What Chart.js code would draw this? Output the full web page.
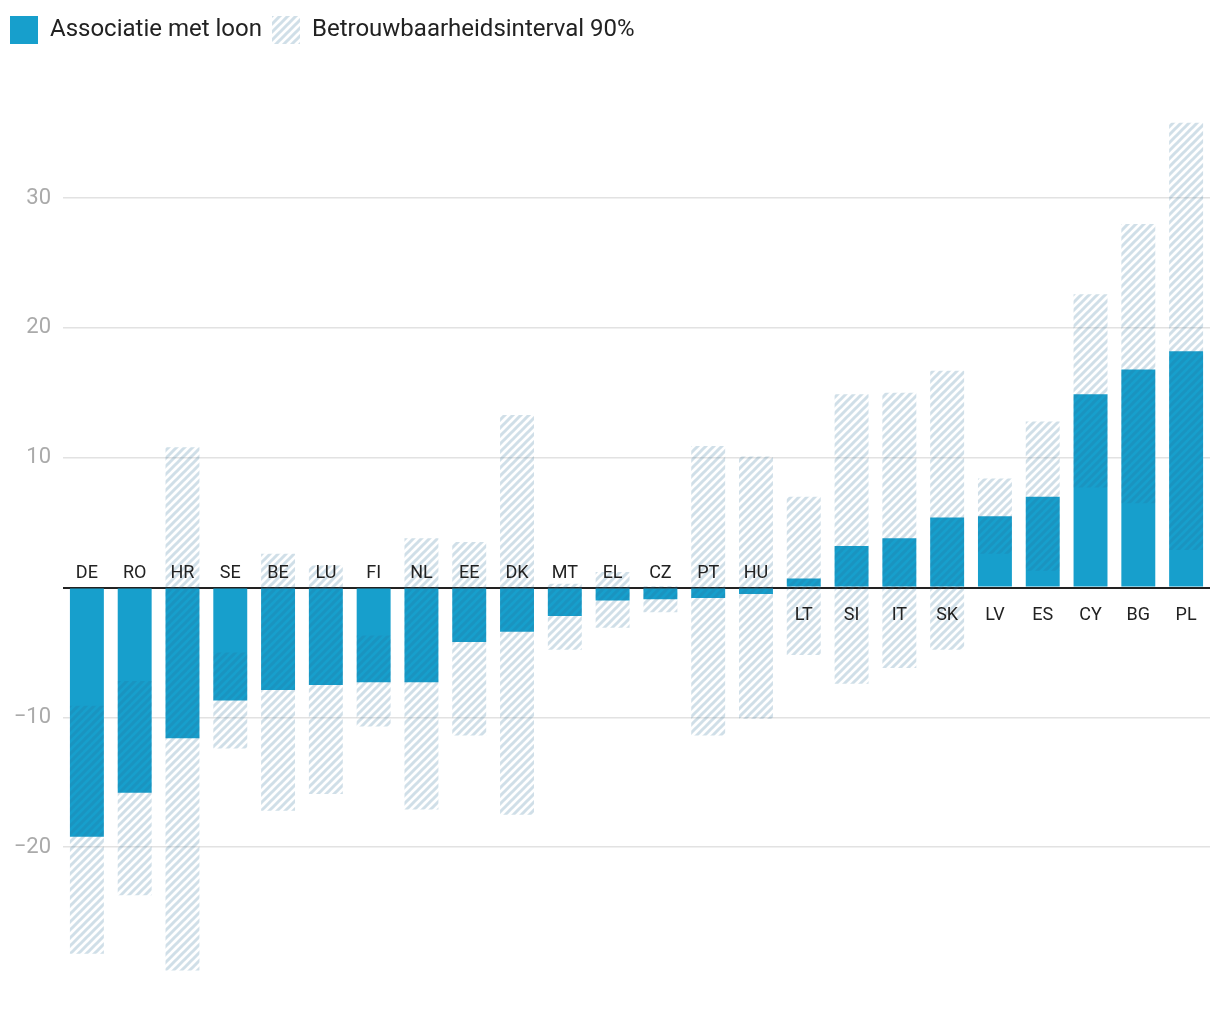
<!DOCTYPE html>
<html>
<head>
<meta charset="utf-8">
<script src="https://cdn.jsdelivr.net/npm/chart.js@4/dist/chart.umd.min.js"></script>
<style>
html,body{margin:0;padding:0;background:#fff}
#wrap{width:1220px;height:1020px}
</style>
</head>
<body>
<div id="wrap"><canvas id="chart" width="1220" height="1020"></canvas></div>
<script>
let countries=["DE","RO","HR","SE","BE","LU","FI","NL","EE","DK","MT","EL","CZ","PT","HU","LT","SI","IT","SK","LV","ES","CY","BG","PL"]
let assoc=[-19.2,-15.8,-11.6,-8.7,-7.9,-7.5,-7.3,-7.3,-4.2,-3.4,-2.2,-1.0,-0.9,-0.8,-0.5,0.7,3.2,3.8,5.4,5.5,7.0,14.9,16.8,18.2]
let ciLow=[-28.2,-23.7,-29.5,-12.4,-17.2,-15.9,-10.7,-17.1,-11.4,-17.5,-4.8,-3.1,-1.9,-11.4,-10.1,-5.2,-7.4,-6.2,-4.8,2.6,1.3,7.7,6.5,2.9]
let ciHigh=[-9.1,-7.2,10.8,-5.0,2.6,1.7,-3.7,3.8,3.5,13.3,0.3,1.2,0.1,10.9,10.1,7.0,14.9,15.0,16.7,8.4,12.8,22.6,28.0,35.8]
let yTicks=[-20,-10,0,10,20,30]

let blue="#179fcc"

function makeHatch(){
let c=document.createElement("canvas")
c.width=8
c.height=8
let g=c.getContext("2d")
g.strokeStyle="rgba(40,110,150,0.22)"
g.lineWidth=3
g.lineCap="square"
g.beginPath()
g.moveTo(0,8);g.lineTo(8,0)
g.moveTo(-4,4);g.lineTo(4,-4)
g.moveTo(4,12);g.lineTo(12,4)
g.stroke()
return g.createPattern(c,"repeat")
}

let hatch=makeHatch()

let ranges=ciLow.map((v,i)=>[v,ciHigh[i]])

// country codes sit next to the zero line, on the side away from the bar
const countryLabels={
id:"countryLabels",
afterDatasetsDraw(chart){
let ctx=chart.ctx
let x=chart.scales.x
let y=chart.scales.y
let zero=y.getPixelForValue(0)
ctx.save()
ctx.font="18px Roboto"
ctx.fillStyle="#222"
ctx.textAlign="center"
ctx.textBaseline="middle"
countries.forEach((c,i)=>{
let px=x.getPixelForValue(i)
let py=assoc[i]<0?zero-14:zero+28
ctx.fillText(c,px,py)
})
ctx.restore()
}
}

Chart.defaults.font.family="Roboto"
Chart.defaults.animation=false

new Chart(document.getElementById("chart"),{
type:"bar",
data:{
labels:countries,
datasets:[
{
label:"Associatie met loon",
data:assoc,
backgroundColor:blue,
borderWidth:0,
order:1
},
{
label:"Betrouwbaarheidsinterval 90%",
data:ranges,
backgroundColor:hatch,
borderWidth:0,
order:0
}
]
},
options:{
responsive:false,
layout:{padding:{left:0,right:10,top:6,bottom:30}},
plugins:{
legend:{
position:"top",
align:"start",
labels:{
boxWidth:28,
boxHeight:28,
padding:10,
color:"#222",
font:{size:24},
sort:(a,b)=>a.datasetIndex-b.datasetIndex
},
onClick:null
},
tooltip:{enabled:false}
},
scales:{
x:{
display:false,
grouped:false
},
y:{
min:-31,
max:41.1,
afterBuildTicks(scale){
scale.ticks=yTicks.map(v=>({value:v}))
},
afterFit(scale){
scale.width=63
},
border:{display:false},
grid:{
color:(c)=>c.tick&&c.tick.value===0?"#222":"#e2e2e2",
lineWidth:(c)=>c.tick&&c.tick.value===0?2:1.5,
drawTicks:false
},
ticks:{
padding:12,
color:"#aaa",
font:{size:22},
callback:(v)=>v===0?"":(v<0?"\u2212"+Math.abs(v):String(v))
}
}
},
datasets:{
bar:{
grouped:false,
categoryPercentage:1,
barPercentage:0.71
}
}
},
plugins:[countryLabels]
})
</script>
</body>
</html>
